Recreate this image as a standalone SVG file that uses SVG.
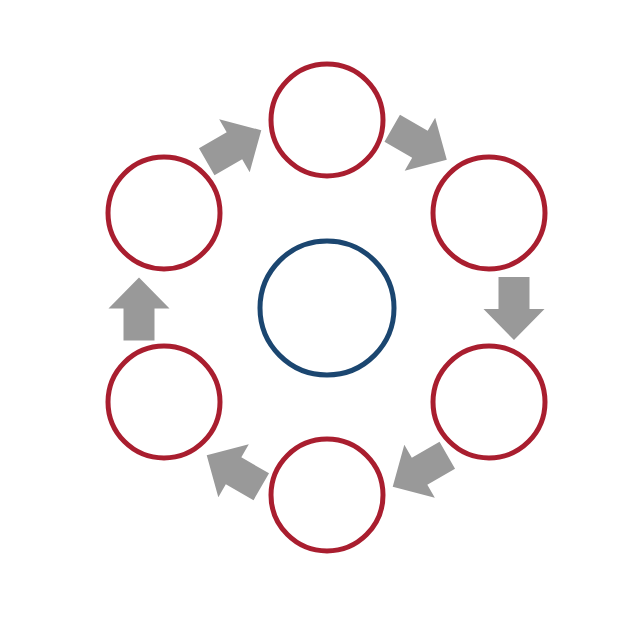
<svg xmlns="http://www.w3.org/2000/svg" width="640" height="635" viewBox="0 0 640 635">
  <style>
    .outer { fill: #ffffff; stroke: #A91E2F; stroke-width: 5; }
    .center { fill: #ffffff; stroke: #1B4670; stroke-width: 5; }
    .arrow { fill: #999999; }
  </style>
  <defs>
    <polygon id="blk" points="-31.5,-15.5 0.5,-15.5 0.5,-30.5 31.5,0 0.5,30.5 0.5,15.5 -31.5,15.5"/>
  </defs>
  <rect width="640" height="635" fill="#ffffff"/>
  <g id="connectors" class="arrow">
    <use href="#blk" transform="translate(419.5,144) rotate(30)"/>
    <use href="#blk" transform="translate(514,308.5) rotate(90)"/>
    <use href="#blk" transform="translate(420,471) rotate(150)"/>
    <use href="#blk" transform="translate(234,471) rotate(210)"/>
    <use href="#blk" transform="translate(139,309) rotate(-90)"/>
    <use href="#blk" transform="translate(234,146) rotate(-30)"/>
  </g>
  <g id="node-center"><circle class="center" cx="327" cy="308" r="67"/></g>
  <g id="node-top"><circle class="outer" cx="327" cy="120" r="56"/></g>
  <g id="node-top-right"><circle class="outer" cx="489" cy="213" r="56"/></g>
  <g id="node-bottom-right"><circle class="outer" cx="489" cy="402" r="56"/></g>
  <g id="node-bottom"><circle class="outer" cx="327" cy="495" r="56"/></g>
  <g id="node-bottom-left"><circle class="outer" cx="164" cy="402" r="56"/></g>
  <g id="node-top-left"><circle class="outer" cx="164" cy="213" r="56"/></g>
</svg>
